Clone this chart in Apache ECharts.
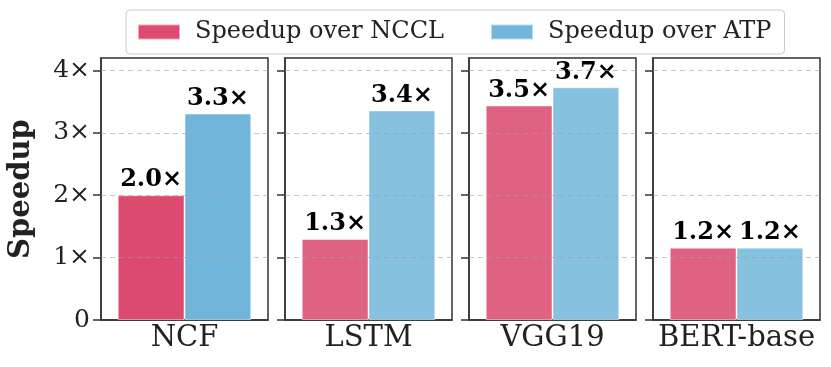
<!DOCTYPE html>
<html>
<head>
<meta charset="utf-8">
<script src="https://cdn.jsdelivr.net/npm/echarts@6/dist/echarts.min.js"></script>
<style>html,body{margin:0;padding:0;background:#fff}#c{width:831px;height:367px}</style>
</head>
<body>
<div id="c"></div>
<script>
const categories = ['NCF', 'LSTM', 'VGG19', 'BERT-base'];
const seriesNames = ['Speedup over NCCL', 'Speedup over ATP'];
const nccl = [2.0, 1.30, 3.44, 1.16];
const atp = [3.31, 3.36, 3.73, 1.16];
const ncclLabels = ['2.0×', '1.3×', '3.5×', '1.2×'];
const atpLabels = ['3.3×', '3.4×', '3.7×', '1.2×'];
const yTicks = [0, 1, 2, 3, 4];

const redDark = '#DC4A6F', redLight = '#E06283';
const blueDark = '#71B5DA', blueLight = '#86C1DF';
const serif = '"DejaVu Serif", serif';

const lefts = [101, 285, 469, 653];
const grids = [], xAxes = [], yAxes = [], series = [];
categories.forEach((cat, i) => {
  grids.push({left: lefts[i], top: 58, width: 167, height: 262, show: true, borderColor: '#333', borderWidth: 1.5, backgroundColor: 'transparent'});
  xAxes.push({type: 'category', gridIndex: i, data: [cat],
    axisLine: {lineStyle: {color: '#333', width: 1.5}}, axisTick: {show: false},
    axisLabel: {fontFamily: serif, fontSize: 29, color: '#222', margin: 4}});
  yAxes.push({type: 'value', gridIndex: i, min: 0, max: 4.2, interval: 1,
    name: i === 0 ? 'Speedup' : '', nameLocation: 'middle', nameGap: 65,
    nameTextStyle: {fontFamily: serif, fontSize: 29, fontWeight: 'bold', color: '#222'},
    axisLine: {show: true, lineStyle: {color: '#333', width: 1.5}},
    axisTick: {show: true, length: 8, customValues: yTicks, lineStyle: {color: '#333', width: 1.5}},
    axisLabel: {show: i === 0, customValues: yTicks, fontFamily: serif, fontSize: 25, color: '#222', margin: 11,
      formatter: v => v === 0 ? '0' : v + '×'},
    splitLine: {show: false}});
  const lbl = {show: true, position: 'top', distance: 3, fontFamily: serif, fontSize: 24, fontWeight: 'bold', color: '#000'};
  series.push({name: seriesNames[0], type: 'bar', xAxisIndex: i, yAxisIndex: i, barWidth: '40%', barGap: '0%', z: 2,
    itemStyle: {color: redDark, borderColor: 'rgba(255,255,255,0.5)', borderWidth: 1},
    label: Object.assign({formatter: () => ncclLabels[i]}, lbl),
    data: [{value: nccl[i], itemStyle: {color: i === 0 ? redDark : redLight}}]});
  series.push({name: seriesNames[1], type: 'bar', xAxisIndex: i, yAxisIndex: i, barWidth: '40%', barGap: '0%', z: 3,
    itemStyle: {color: blueDark, borderColor: 'rgba(255,255,255,0.5)', borderWidth: 1},
    label: Object.assign({formatter: () => atpLabels[i]}, lbl),
    data: [{value: atp[i], itemStyle: {color: i === 0 ? blueDark : blueLight}}],
    markLine: {silent: true, symbol: 'none', label: {show: false},
      lineStyle: {color: 'rgba(160,160,160,0.6)', type: [5, 4], width: 1},
      data: yTicks.filter(v => v > 0).map(v => ({yAxis: v}))}});
});

const chart = echarts.init(document.getElementById('c'), null, {renderer: 'canvas'});
chart.setOption({
  animation: false,
  backgroundColor: '#fff',
  legend: {top: 10, left: 126, icon: 'rect', itemWidth: 42, itemHeight: 15, itemGap: 46,
    padding: [10, 13, 10, 11], borderColor: '#ccc', borderWidth: 1, borderRadius: 4,
    textStyle: {fontFamily: serif, fontSize: 24, color: '#222', padding: [0, 0, 0, 10]},
    data: seriesNames},
  grid: grids, xAxis: xAxes, yAxis: yAxes, series: series
});
</script>
</body>
</html>
